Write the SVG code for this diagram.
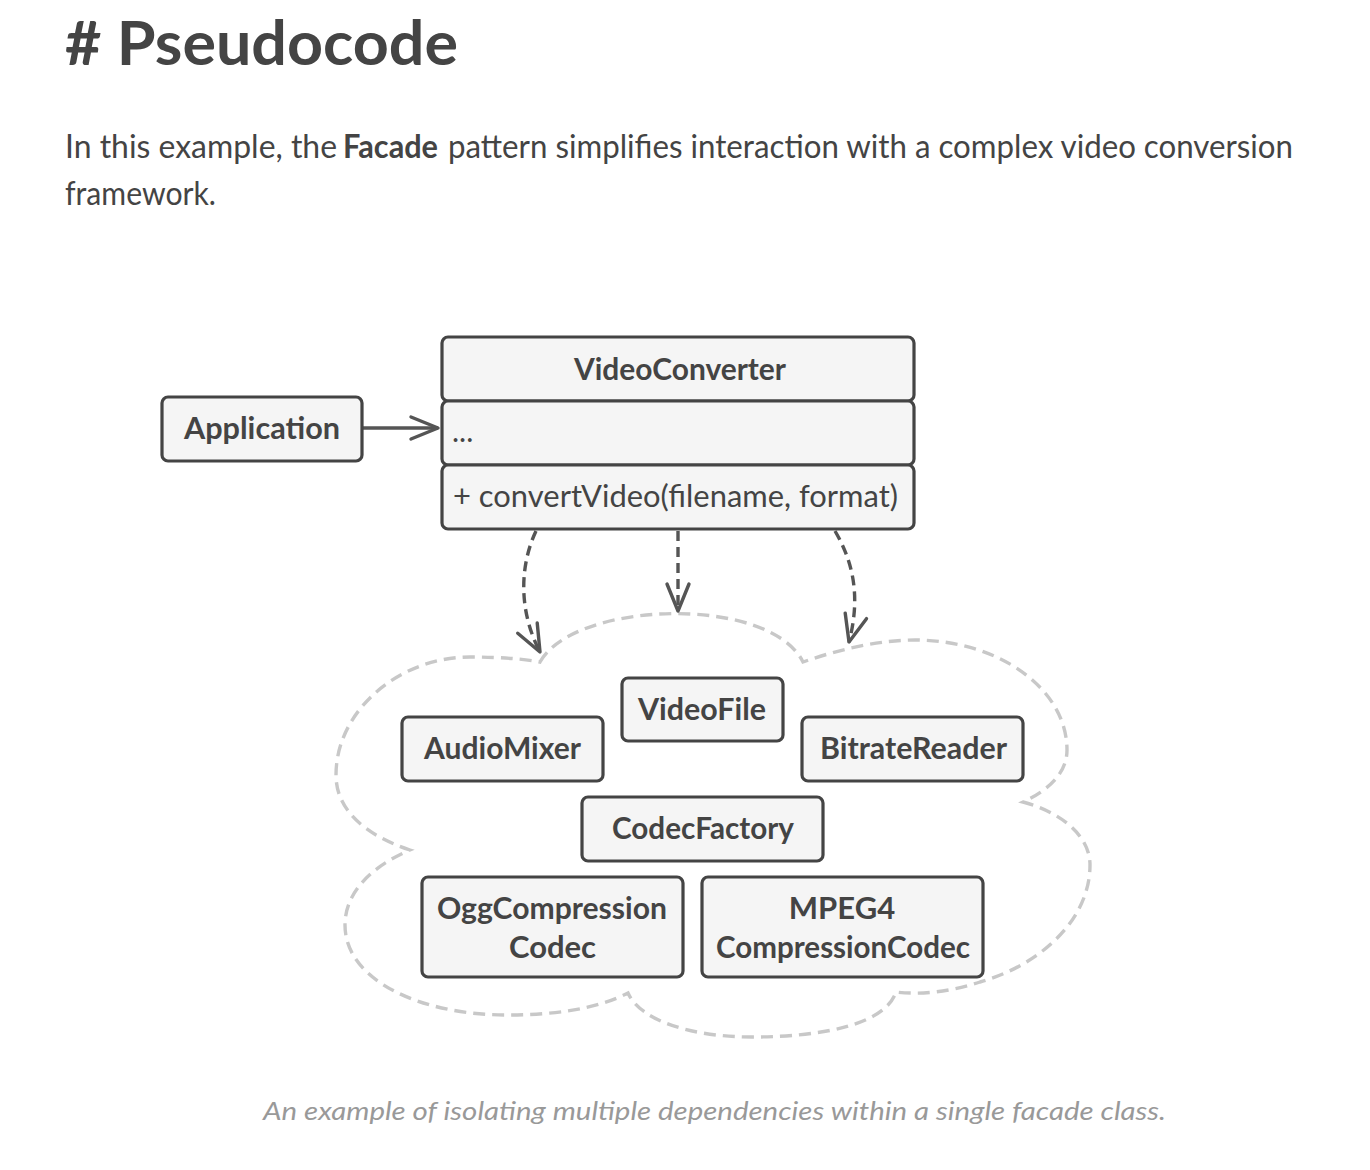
<svg xmlns="http://www.w3.org/2000/svg" width="1370" height="1170" viewBox="0 0 1370 1170">
<style>
.t{font-family:Lato,"Open Sans","Liberation Sans",sans-serif;fill:#444}
.b{font-weight:bold}
.box{fill:#f5f5f5;stroke:#444;stroke-width:3.2}
.lbl{font-family:Lato,"Open Sans","Liberation Sans",sans-serif;font-weight:bold;font-size:31px;fill:#444}
.dash{fill:none;stroke:#555;stroke-width:3.4;stroke-dasharray:10 6}
.cloud{fill:none;stroke:#c8c8c8;stroke-width:3.4;stroke-dasharray:12 7}
</style>
<defs>
<marker id="arr" markerUnits="userSpaceOnUse" markerWidth="40" markerHeight="30" viewBox="-32 -15 40 30" refX="0" refY="0" orient="auto">
<path d="M-27,-11 L0,0 L-27,11" fill="none" stroke="#555" stroke-width="3.4" stroke-dasharray="none" stroke-linecap="round" stroke-linejoin="round"/>
</marker>
</defs>
<rect width="1370" height="1170" fill="#fff"/>
<text class="t b" x="65" y="65" font-size="62" textLength="393" lengthAdjust="spacingAndGlyphs"># Pseudocode</text>
<text class="t" x="65" y="158" font-size="32" textLength="272" lengthAdjust="spacingAndGlyphs">In this example, the</text>
<text class="t b" x="343" y="158" font-size="32" textLength="95" lengthAdjust="spacingAndGlyphs">Facade</text>
<text class="t" x="448" y="158" font-size="32" textLength="845" lengthAdjust="spacingAndGlyphs">pattern simplifies interaction with a complex video conversion</text>
<text class="t" x="65" y="205" font-size="32" textLength="151" lengthAdjust="spacingAndGlyphs">framework.</text>

<path class="cloud" d="M540,662 C575,600 770,595 803,662 C840,649 880,640 915,640 C999,640 1067,689 1067,750 C1067,775 1045,792 1023,802 C1060,812 1090,835 1090,865 C1090,920 1040,965 980,982 C950,992 920,995 896,992 C885,1025 820,1037 752,1037 C690,1037 640,1020 628,993 C595,1010 550,1015 507,1015 C420,1015 345,980 345,925 C345,890 375,865 410,850 C365,835 336,810 336,775 C336,710 400,657 470,657 C500,657 525,659 540,662 Z"/>

<g id="connectors">
<path d="M362,428 L438,428" fill="none" stroke="#555" stroke-width="3.4" marker-end="url(#arr)"/>
<path class="dash" d="M536,531 C520,565 518,610 540,652" marker-end="url(#arr)"/>
<path class="dash" d="M678,531 L678,611" marker-end="url(#arr)"/>
<path class="dash" d="M835,531 C855,565 860,600 849,642" marker-end="url(#arr)"/>
</g>

<g id="application">
<rect class="box" x="162" y="397" width="200" height="64" rx="6"/>
<text class="lbl" x="184" y="439" textLength="156" lengthAdjust="spacingAndGlyphs">Application</text>
</g>
<g id="videoconverter">
<rect class="box" x="442" y="337" width="472" height="64" rx="6"/>
<rect class="box" x="442" y="401" width="472" height="64" rx="6"/>
<rect class="box" x="442" y="465" width="472" height="64" rx="6"/>
<text class="lbl" x="574" y="380" textLength="212" lengthAdjust="spacingAndGlyphs">VideoConverter</text>
<text class="t" x="452" y="442" font-size="30">...</text>
<text class="t" x="453" y="507" font-size="31" textLength="445" lengthAdjust="spacingAndGlyphs">+ convertVideo(filename, format)</text>
</g>
<g id="videofile">
<rect class="box" x="622" y="678" width="161" height="63" rx="6"/>
<text class="lbl" x="638" y="720" textLength="128" lengthAdjust="spacingAndGlyphs">VideoFile</text>
</g>
<g id="audiomixer">
<rect class="box" x="402" y="717" width="201" height="64" rx="6"/>
<text class="lbl" x="424" y="759" textLength="157" lengthAdjust="spacingAndGlyphs">AudioMixer</text>
</g>
<g id="bitratereader">
<rect class="box" x="802" y="717" width="221" height="64" rx="6"/>
<text class="lbl" x="820" y="759" textLength="187" lengthAdjust="spacingAndGlyphs">BitrateReader</text>
</g>
<g id="codecfactory">
<rect class="box" x="582" y="797" width="241" height="64" rx="6"/>
<text class="lbl" x="612" y="839" textLength="182" lengthAdjust="spacingAndGlyphs">CodecFactory</text>
</g>
<g id="oggcompressioncodec">
<rect class="box" x="422" y="877" width="261" height="100" rx="6"/>
<text class="lbl" x="437" y="919" textLength="230" lengthAdjust="spacingAndGlyphs">OggCompression</text>
<text class="lbl" x="552.5" y="958" text-anchor="middle">Codec</text>
</g>
<g id="mpeg4compressioncodec">
<rect class="box" x="702" y="877" width="281" height="100" rx="6"/>
<text class="lbl" x="842" y="919" text-anchor="middle">MPEG4</text>
<text class="lbl" x="716" y="958" textLength="254" lengthAdjust="spacingAndGlyphs">CompressionCodec</text>
</g>

<text x="263" y="1120" font-family="Lato,'Open Sans','Liberation Sans',sans-serif" font-style="italic" font-size="26" fill="#999" textLength="903" lengthAdjust="spacingAndGlyphs">An example of isolating multiple dependencies within a single facade class.</text>
</svg>
